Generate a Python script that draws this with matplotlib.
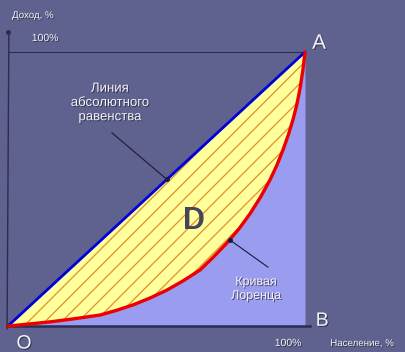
import matplotlib.pyplot as plt
import matplotlib.patheffects as pe
import numpy as np

# Lorenz curve (population %, income %)
population = [0, 4.0, 14.1, 22.0, 31.0, 36.5, 42.1, 47.8, 53.5, 59.0, 64.6, 69.0, 73.7,
              77.8, 81.5, 85.0, 88.2, 90.5, 92.6, 94.4, 96.0, 97.2, 98.3, 99.3, 100]
income = [0, 0.4, 1.5, 2.6, 4.0, 5.7, 7.7, 10.2, 13.1, 16.5, 20.4, 25.0, 30.3,
          35.5, 41.0, 47.0, 53.3, 58.6, 64.3, 69.8, 75.5, 80.6, 86.5, 93.5, 100]
equality = [0, 100]

BG = "#5f618f"
LIGHT = "#9a9cf0"
YELLOW = "#ffff9c"
HATCH = "#e0902c"
DARK = "#2c2c52"
WHITE = "#f2f2f8"

plt.rcParams["hatch.linewidth"] = 0.9
plt.rcParams["font.family"] = ["Liberation Sans", "DejaVu Sans"]

shadow = [pe.SimplePatchShadow(offset=(0.7, -0.7), shadow_rgbFace="#202030", alpha=0.7),
          pe.Normal()]

fig = plt.figure(figsize=(4.06, 3.52), dpi=100)
fig.patch.set_facecolor(BG)
ax = fig.add_axes([0, 0, 1, 1])
ax.set_facecolor(BG)
# 0..100 maps onto the square O-B-A of the picture
ax.set_xlim(-2.69, 134.0)
ax.set_ylim(-9.49, 118.98)
ax.axis("off")

x = np.array(population)
y = np.array(income)

# area under the Lorenz curve
ax.fill_between(x, 0, y, color=LIGHT, lw=0, zorder=1)
# area between equality line and Lorenz curve, hatched
ax.fill_between(x, y, x, facecolor=YELLOW, edgecolor=HATCH, hatch="//", lw=0, zorder=2)

# frame lines
ax.plot([0, 100], [100, 100], color=DARK, lw=0.8, zorder=3)
ax.plot([-0.3, 0.3], [-1, 107.3], color=DARK, lw=1.0, zorder=3)
ax.plot([0], [107.3], "o", color=DARK, ms=2.5, zorder=3)
ax.plot([-0.3, 101.7], [0, 0], color=DARK, lw=1.8, zorder=3)

ax.plot(equality, equality, color="#0000dd", lw=2.0, zorder=4, solid_capstyle="round")
ax.plot(x, y, color="#ee0000", lw=2.4, zorder=5, solid_capstyle="round",
        solid_joinstyle="round")

# pointers
ax.plot([35.0, 53.5], [70.5, 53.5], color="#1a1a3a", lw=0.8, zorder=6)
ax.plot([53.5], [53.5], "o", color="#1a1a3a", ms=2.5, zorder=6)
ax.plot([74.7, 87.5], [31.4, 21.5], color="#1a1a3a", lw=0.8, zorder=6)
ax.plot([74.7], [31.4], "o", color="#1a1a3a", ms=2.5, zorder=6)

ax.text(1.35, 113.5, "Доход, %", color=WHITE, fontsize=7, ha="left", va="center",
        path_effects=shadow)
ax.text(12.5, 105.1, "100%", color=WHITE, fontsize=7.5, ha="center", va="center",
        path_effects=shadow)
ax.text(102.4, 103.2, "A", color=WHITE, fontsize=15, ha="left", va="center",
        path_effects=shadow)
ax.text(103.6, 1.7, "B", color=WHITE, fontsize=14, ha="left", va="center",
        path_effects=shadow)
ax.text(5.4, -6.6, "O", color=WHITE, fontsize=14, ha="center", va="center",
        path_effects=shadow)
ax.text(94.3, -6.2, "100%", color=WHITE, fontsize=7.5, ha="center", va="center",
        path_effects=shadow)
ax.text(119.2, -6.2, "Население, %", color=WHITE, fontsize=7, ha="center", va="center",
        path_effects=shadow)
ax.text(34.3, 81.4, "Линия\nабсолютного\nравенства", color=WHITE, fontsize=9.5,
        ha="center", va="center", linespacing=1.25, zorder=7, path_effects=shadow)
ax.text(83.5, 13.5, "Кривая\nЛоренца", color=WHITE, fontsize=9, ha="center", va="center",
        linespacing=1.2, zorder=7, path_effects=shadow)
ax.text(62.5, 38.5, "D", color="#46465a", fontsize=22, fontweight="bold", ha="center",
        va="center", zorder=7)

fig.savefig("out.png", dpi=100, facecolor=BG)
